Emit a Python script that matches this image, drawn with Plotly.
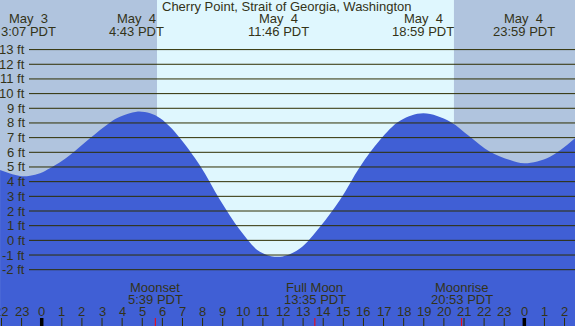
import plotly.graph_objects as go

# ---- data (hours relative to May 4 00:00 PDT, heights in ft) ----
tide_hours = [-2.07, -1.08, -0.58, -0.08, 0.41, 0.91, 1.41, 1.90, 2.40, 2.90, 3.40, 3.89, 4.72,
              5.39, 5.89, 6.38, 6.88, 7.87, 8.87, 9.86,
              10.85, 11.85, 12.84, 13.84, 14.83, 15.83, 16.82, 17.82, 18.98, 20.31, 21.30,
              22.29, 23.29, 24.03, 25.28, 26.52]
tide_ft = [4.79, 4.38, 4.40, 4.57, 4.91, 5.32, 5.81, 6.38, 6.95, 7.52, 8.04, 8.42, 8.77,
           8.66, 8.32, 7.74, 6.95, 5.10, 2.75, 0.70,
           -0.78, -1.12, -0.55, 0.93, 2.75, 5.02, 6.84, 8.15, 8.66, 8.09, 7.06,
           6.04, 5.47, 5.25, 5.70, 6.95]

ft_levels = list(range(13, -3, -1))
ft_labels = [f"{v} ft" for v in ft_levels]

hour_ticks = list(range(-2, 27))
hour_labels = [str(h % 24) for h in hour_ticks]
midnights = [0, 24]

sunrise_h = 5.733
sunset_h = 20.50

extreme_dates = ["May \u00a03", "May \u00a04", "May \u00a04", "May \u00a04", "May \u00a04"]
extreme_times = ["3:07 PDT", "4:43 PDT", "11:46 PDT", "18:59 PDT", "23:59 PDT"]
extreme_hours = [None, 4.717, 11.767, 18.983, 23.983]

moon_names = ["Moonset", "Full Moon", "Moonrise"]
moon_times = ["5:39 PDT", "13:35 PDT", "20:53 PDT"]
moon_hours = [5.65, 13.583, 20.883]

title = "Cherry Point, Strait of Georgia, Washington"

# ---- styling ----
W, H = 575, 326
X_RANGE = [-2.074, 26.52]
Y_RANGE = [-5.837, 16.38]
NIGHT = "#B0C4DE"
DAY = "#DFF7FE"
WATER = "#405FD5"
LINE = "#2E2E00"
TEXT = "#333318"
FONT = "Liberation Sans, Arial, sans-serif"
FS = 13

def py(px):
    return 1 - px / H

fig = go.Figure()
fig.add_trace(go.Scatter(x=tide_hours, y=[-20] * len(tide_hours), mode="lines",
                         line=dict(width=0, color=WATER), hoverinfo="skip", showlegend=False))
fig.add_trace(go.Scatter(x=tide_hours, y=tide_ft, mode="lines", fill="tonexty",
                         fillcolor=WATER, line=dict(width=0, color=WATER, shape="spline", smoothing=1.0),
                         hoverinfo="skip", showlegend=False))

shapes = []
# daylight band
shapes.append(dict(type="rect", xref="x", yref="paper", x0=sunrise_h, x1=sunset_h, y0=0, y1=1,
                   fillcolor=DAY, line=dict(width=0), layer="below"))
# horizontal ft lines
for v in ft_levels:
    shapes.append(dict(type="line", xref="paper", yref="y", x0=29 / W, x1=1, y0=v, y1=v,
                       line=dict(color=LINE, width=1), layer="above"))
# hour ticks
for h in hour_ticks:
    shapes.append(dict(type="line", xref="x", yref="paper", x0=h, x1=h, y0=0, y1=py(318),
                       line=dict(color=LINE, width=1), layer="above"))
for h in midnights:
    shapes.append(dict(type="line", xref="x", yref="paper", x0=h, x1=h, y0=0, y1=py(318),
                       line=dict(color="#000000", width=3.5), layer="above"))
for h in moon_hours:
    shapes.append(dict(type="line", xref="x", yref="paper", x0=h, x1=h, y0=0, y1=py(318),
                       line=dict(color="#FF0000", width=1), layer="above"))

ann = []
def text(x, y, s, xref="x", xanchor="center"):
    ann.append(dict(x=x, y=y, xref=xref, yref="paper", text=s, showarrow=False,
                    xanchor=xanchor, yanchor="middle", font=dict(family=FONT, size=FS, color=TEXT)))

text(287 / W, py(7), title, xref="paper")
for d, t, h in zip(extreme_dates, extreme_times, extreme_hours):
    if h is None:
        text(28 / W, py(18.5), d, xref="paper")
        text(28 / W, py(31.5), t, xref="paper")
    else:
        text(h, py(18.5), d)
        text(h, py(31.5), t)
for v, lab in zip(ft_levels, ft_labels):
    ann.append(dict(x=27 / W, y=v, xref="paper", yref="y", text=lab, showarrow=False,
                    xanchor="right", yanchor="middle", font=dict(family=FONT, size=FS, color=TEXT)))
for h, lab in zip(hour_ticks, hour_labels):
    text(h, py(311.5), lab)
for n, t, h in zip(moon_names, moon_times, moon_hours):
    text(h, py(287.5), n)
    text(h, py(299), t)

fig.update_layout(
    width=W, height=H, margin=dict(l=0, r=0, t=0, b=0),
    paper_bgcolor=NIGHT, plot_bgcolor=NIGHT,
    xaxis=dict(range=X_RANGE, visible=False, fixedrange=True),
    yaxis=dict(range=Y_RANGE, visible=False, fixedrange=True),
    shapes=shapes, annotations=ann, showlegend=False,
)
fig.write_html("out.html", config=dict(displayModeBar=False),
               post_script="document.body.style.margin='0';document.body.style.overflow='hidden';")
